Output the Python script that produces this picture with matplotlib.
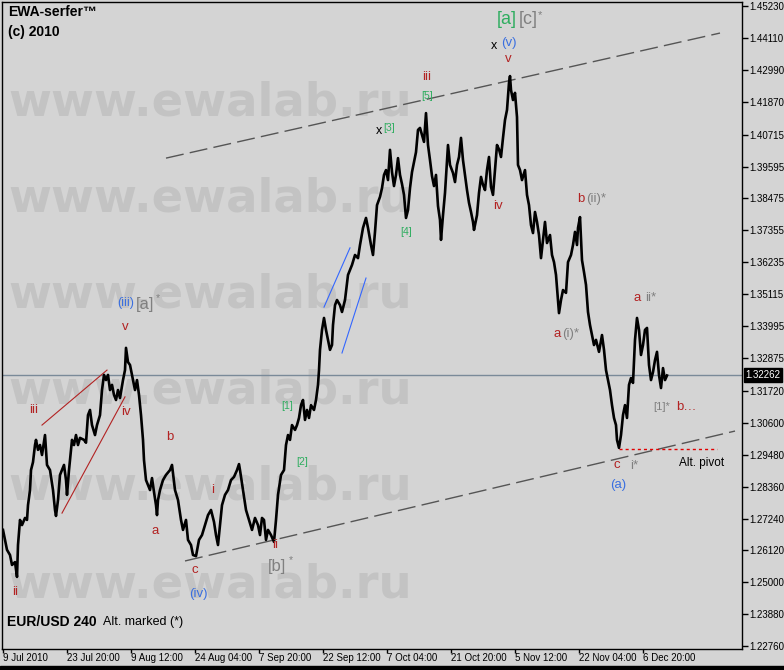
#EUR/USD H4 wave count chart, MT4 style
import matplotlib.pyplot as plt
from matplotlib.patches import Rectangle

plt.rcParams['font.family'] = ['Liberation Sans', 'DejaVu Sans']

#price path (bar number, close)
bars = [0, 2, 4, 7, 9, 12, 14, 15, 17, 19, 22, 24, 25, 27, 28, 30, 32, 33, 35, 37, 39, 42, 44, 47, 50,
        52, 53, 55, 57, 59, 61, 63, 64, 66, 69, 71, 73, 75, 77, 81, 83, 85, 87, 89, 92, 94, 97, 99, 101,
        103, 105, 107, 109, 111, 113, 115, 117, 120, 122, 123, 125, 127, 129, 132, 134, 136, 138, 140,
        141, 143, 145, 147, 149, 151, 153, 154, 155, 157, 160, 163, 167, 169, 172, 175, 178, 180, 183,
        185, 188, 190, 193, 196, 199, 202, 205, 208, 211, 213, 215, 217, 219, 222, 225, 228, 231, 234,
        236, 237, 240, 243, 246, 249, 252, 255, 257, 259, 261, 263, 265, 268, 271, 273, 275, 278, 281,
        283, 285, 287, 289, 292, 294, 296, 298, 300, 302, 304, 306, 308, 311, 313, 315, 316, 317, 319,
        321, 323, 325, 327, 329, 330, 332, 334, 337, 339, 342, 345, 349, 352, 355, 357, 360, 363, 365,
        368, 370, 372, 374, 377, 379, 381, 383, 385, 387, 389, 391, 393, 395, 397, 399, 401, 403, 405,
        407, 409, 411, 413, 415, 417, 419, 421, 423, 425, 427, 429, 431, 433, 435, 437, 438, 440, 442,
        445, 447, 450, 452, 454, 456, 458, 460, 462, 464, 466, 468, 470, 471, 474, 476, 478, 480, 482,
        484, 486, 488, 490, 492, 494, 496, 498, 500, 502, 504, 506, 507, 508, 510, 512, 514, 515, 517,
        519, 522, 524, 526, 528, 530, 532, 534, 536, 538, 540, 542, 544, 547, 549, 551, 553, 555, 556,
        558, 560, 563, 565, 568, 570, 572, 574, 575, 577, 579, 581, 583, 585, 587, 589, 591, 593, 596,
        599, 601, 603, 605, 607, 609, 611, 613, 614, 616, 618, 620, 622, 624, 626, 628, 630, 632, 634,
        636, 638, 640, 642, 644, 646, 648, 650, 652, 654, 656, 658, 660, 662, 664]
closes = [1.2684, 1.2649, 1.2614, 1.2596, 1.2561, 1.2571, 1.2519, 1.2631, 1.2719, 1.2701, 1.2726, 1.2719,
          1.2771, 1.2824, 1.2894, 1.2922, 1.2982, 1.3000, 1.2965, 1.2982, 1.2947, 1.3017, 1.2912, 1.2894,
          1.2824, 1.2754, 1.2733, 1.2789, 1.2877, 1.2894, 1.2912, 1.2859, 1.2807, 1.2894, 1.3000, 1.2982,
          1.3017, 1.2982, 1.3007, 1.3000, 1.2990, 1.3087, 1.3105, 1.3052, 1.3017, 1.3052, 1.3087, 1.3175,
          1.3228, 1.3210, 1.3228, 1.3175, 1.3193, 1.3158, 1.3140, 1.3175, 1.3147, 1.3210, 1.3245, 1.3323,
          1.3273, 1.3263, 1.3228, 1.3175, 1.3210, 1.3158, 1.3087, 1.3000, 1.2929, 1.2859, 1.2842, 1.2824,
          1.2866, 1.2817, 1.2771, 1.2736, 1.2789, 1.2824, 1.2859, 1.2877, 1.2894, 1.2912, 1.2824, 1.2789,
          1.2719, 1.2684, 1.2719, 1.2649, 1.2631, 1.2596, 1.2592, 1.2649, 1.2666, 1.2701, 1.2736, 1.2754,
          1.2712, 1.2666, 1.2631, 1.2701, 1.2771, 1.2807, 1.2824, 1.2859, 1.2870, 1.2894, 1.2915, 1.2894,
          1.2824, 1.2754, 1.2719, 1.2684, 1.2726, 1.2701, 1.2666, 1.2726, 1.2719, 1.2649, 1.2684, 1.2666,
          1.2642, 1.2719, 1.2807, 1.2877, 1.2894, 1.2982, 1.3017, 1.3000, 1.3052, 1.3035, 1.3052, 1.3077,
          1.3122, 1.3140, 1.3070, 1.3105, 1.3077, 1.3122, 1.3105, 1.3140, 1.3193, 1.3245, 1.3316, 1.3386,
          1.3428, 1.3386, 1.3351, 1.3316, 1.3333, 1.3403, 1.3473, 1.3491, 1.3473, 1.3449, 1.3491, 1.3579,
          1.3614, 1.3649, 1.3638, 1.3684, 1.3744, 1.3779, 1.3744, 1.3684, 1.3649, 1.3730, 1.3824, 1.3853,
          1.3884, 1.3930, 1.3947, 1.3912, 1.4018, 1.3940, 1.3891, 1.3930, 1.3989, 1.3930, 1.3898, 1.3860,
          1.3779, 1.3807, 1.3884, 1.3940, 1.3975, 1.4010, 1.4088, 1.4095, 1.4070, 1.4046, 1.4147, 1.4035,
          1.3982, 1.3926, 1.3891, 1.3930, 1.3821, 1.3772, 1.3702, 1.3789, 1.3867, 1.4035, 1.3965, 1.3937,
          1.3905, 1.3965, 1.3993, 1.4060, 1.3982, 1.3930, 1.3877, 1.3832, 1.3800, 1.3765, 1.3737, 1.3789,
          1.3867, 1.3923, 1.3895, 1.3877, 1.3947, 1.3993, 1.3888, 1.3860, 1.3947, 1.4035, 1.4020, 1.3993,
          1.4060, 1.4123, 1.4158, 1.4253, 1.4277, 1.4228, 1.4193, 1.4218, 1.4133, 1.3965, 1.3947, 1.3912,
          1.3947, 1.3860, 1.3824, 1.3754, 1.3726, 1.3800, 1.3765, 1.3719, 1.3638, 1.3702, 1.3765, 1.3691,
          1.3719, 1.3649, 1.3624, 1.3579, 1.3491, 1.3445, 1.3491, 1.3526, 1.3516, 1.3624, 1.3649, 1.3684,
          1.3730, 1.3684, 1.3744, 1.3782, 1.3631, 1.3589, 1.3544, 1.3449, 1.3403, 1.3368, 1.3333, 1.3351,
          1.3309, 1.3368, 1.3316, 1.3245, 1.3210, 1.3175, 1.3122, 1.3077, 1.3052, 1.3000, 1.2972, 1.3017,
          1.3087, 1.3122, 1.3077, 1.3193, 1.3217, 1.3200, 1.3351, 1.3428, 1.3386, 1.3298, 1.3333, 1.3386,
          1.3393, 1.3263, 1.3210, 1.3238, 1.3280, 1.3309, 1.3228, 1.3182, 1.3252, 1.3210, 1.3226]
last_price = 1.32262

#axis ticks
price_ticks = [1.45230, 1.44110, 1.42990, 1.41870, 1.40715, 1.39595, 1.38475, 1.37355, 1.36235, 1.35115,
               1.33995, 1.32875, 1.31720, 1.30600, 1.29480, 1.28360, 1.27240, 1.26120, 1.25000, 1.23880,
               1.22760]
date_bars = [0, 64, 128, 192, 256, 320, 384, 448, 512, 576, 640]
date_labels = ['9 Jul 2010', '23 Jul 20:00', '9 Aug 12:00', '24 Aug 04:00', '7 Sep 20:00', '22 Sep 12:00',
               '7 Oct 04:00', '21 Oct 20:00', '5 Nov 12:00', '22 Nov 04:00', '6 Dec 20:00']

#drawn objects (bar, price) pairs
chan_up_bars, chan_up_prices = [163, 717], [1.3989, 1.4428]
chan_lo_bars, chan_lo_prices = [182, 732], [1.2575, 1.3031]
red1_bars, red1_prices = [39, 104], [1.3052, 1.3245]
red2_bars, red2_prices = [59, 122], [1.2743, 1.3151]
blue1_bars, blue1_prices = [321, 347], [1.3466, 1.3674]
blue2_bars, blue2_prices = [339, 363], [1.3305, 1.3568]
pivot_bars, pivot_price = [616, 714], 1.2968

W, H = 784, 670
bg = '#D4D4D4'
fig = plt.figure(figsize=(W / 100, H / 100), dpi=100)
fig.patch.set_facecolor(bg)
ax = fig.add_axes([2 / W, 21 / H, 740 / W, 647 / H])
ax.set_facecolor(bg)

def put(x, y, s, color, size=9.5, weight='normal', family=None, va='center', z=5):
    kw = {}
    if family:
        kw['family'] = family
    ax.text(x / W, 1 - y / H, s, color=color, fontsize=size, fontweight=weight, ha='left', va=va,
            transform=fig.transFigure, zorder=z, **kw)

#watermark
for yb in [115, 212, 308, 404, 500, 597]:
    put(8, yb, 'www.ewalab.ru', '#C3C3C3', size=33.5, weight='bold', family='DejaVu Sans', va='baseline', z=0)

ax.axhline(last_price, color='#7A8A99', lw=1, zorder=1)
ax.plot(bars, closes, color='black', lw=1.9, zorder=3)

ax.plot(chan_up_bars, chan_up_prices, color='#555555', lw=1, ls=(0, (13, 4.5)), zorder=2)
ax.plot(chan_lo_bars, chan_lo_prices, color='#555555', lw=1, ls=(0, (13, 4.5)), zorder=2)
ax.plot(red1_bars, red1_prices, color='#B22222', lw=0.8, zorder=2)
ax.plot(red2_bars, red2_prices, color='#B22222', lw=0.8, zorder=2)
ax.plot(blue1_bars, blue1_prices, color='#3366FF', lw=0.8, zorder=2)
ax.plot(blue2_bars, blue2_prices, color='#3366FF', lw=0.8, zorder=2)
ax.plot(pivot_bars, [pivot_price, pivot_price], color='#E00000', lw=1, ls=(0, (2.2, 2.2)), zorder=2)

ax.set_xlim(-1, 739)
ax.set_ylim(1.2266, 1.4537)
ax.yaxis.tick_right()
ax.set_yticks(price_ticks)
ax.set_yticklabels(['%.5f' % v for v in price_ticks])
ax.set_xticks(date_bars)
ax.set_xticklabels(date_labels)
for t in ax.get_xticklabels():
    t.set_ha('left')
ax.tick_params(axis='y', direction='out', length=4, width=1, pad=1, labelsize=7)
ax.tick_params(axis='x', direction='out', length=3, width=1, pad=0, labelsize=7)
for s in ax.spines.values():
    s.set_color('black')
    s.set_linewidth(1)

ax.annotate('%.5f' % last_price, xy=(1, last_price), xycoords=('axes fraction', 'data'), xytext=(2.5, 0),
            textcoords='offset points', ha='left', va='center', color='white', fontsize=7,
            bbox=dict(boxstyle='square,pad=0.2', fc='black', ec='black'), annotation_clip=False, zorder=6)

fig.add_artist(Rectangle((0, 0), 1, 4 / H, transform=fig.transFigure, color='black'))

red = '#B22222'
grn = '#2EAD5F'
gry = '#808080'
blu = '#3A6FE0'

#header texts
put(8, 12, 'EWA-serfer\u2122', 'black', size=10, weight='bold')
put(8, 32, '(c) 2010', 'black', size=10, weight='bold')
put(7, 622, 'EUR/USD 240', 'black', size=10, weight='bold')
put(103, 622, 'Alt. marked (*)', 'black', size=9)

#wave labels
put(497, 20, '[a]', grn, size=13)
put(519, 20, '[c]', gry, size=13)
put(538, 15, '*', gry, size=8)
put(491, 46, 'x', 'black', size=9)
put(501, 43, '(v)', blu, size=9.5)
put(505, 59, 'v', red, size=9.5)
put(422, 77, 'iii', red, size=9.5)
put(421, 96, '[5]', grn, size=7.5)
put(376, 131, 'x', 'black', size=9)
put(383, 128, '[3]', grn, size=7.5)
put(400, 232, '[4]', grn, size=7.5)
put(493, 206, 'iv', red, size=9.5)
put(577, 199, 'b', red, size=9.5)
put(586, 199, '(ii)*', gry, size=9.5)
put(634, 298, 'a', red, size=9.5)
put(645, 298, 'ii*', gry, size=9.5)
put(553, 334, 'a', red, size=9.5)
put(562, 334, '(i)*', gry, size=9.5)
put(653, 407, '[1]*', gry, size=8)
put(676, 407, 'b\u2026', red, size=9.5)
put(614, 465, 'c', red, size=9.5)
put(630, 466, 'i*', gry, size=9.5)
put(610, 485, '(a)', blu, size=9.5)
put(679, 463, 'Alt. pivot', 'black', size=8.5)
put(117, 303, '(iii)', blu, size=9)
put(136, 304, '[a]', gry, size=12)
put(156, 298, '*', gry, size=7.5)
put(122, 327, 'v', red, size=9.5)
put(29, 410, 'iii', red, size=9.5)
put(121, 412, 'iv', red, size=9.5)
put(166, 437, 'b', red, size=9.5)
put(152, 531, 'a', red, size=9.5)
put(12, 592, 'ii', red, size=9.5)
put(211, 490, 'i', red, size=9.5)
put(281, 406, '[1]', grn, size=7.5)
put(296, 462, '[2]', grn, size=7.5)
put(272, 545, 'ii', red, size=9.5)
put(268, 566, '[b]', gry, size=12)
put(289, 560, '*', gry, size=7.5)
put(192, 570, 'c', red, size=9.5)
put(189, 594, '(iv)', blu, size=9.5)

fig.savefig('out.png', dpi=100, facecolor=bg)
